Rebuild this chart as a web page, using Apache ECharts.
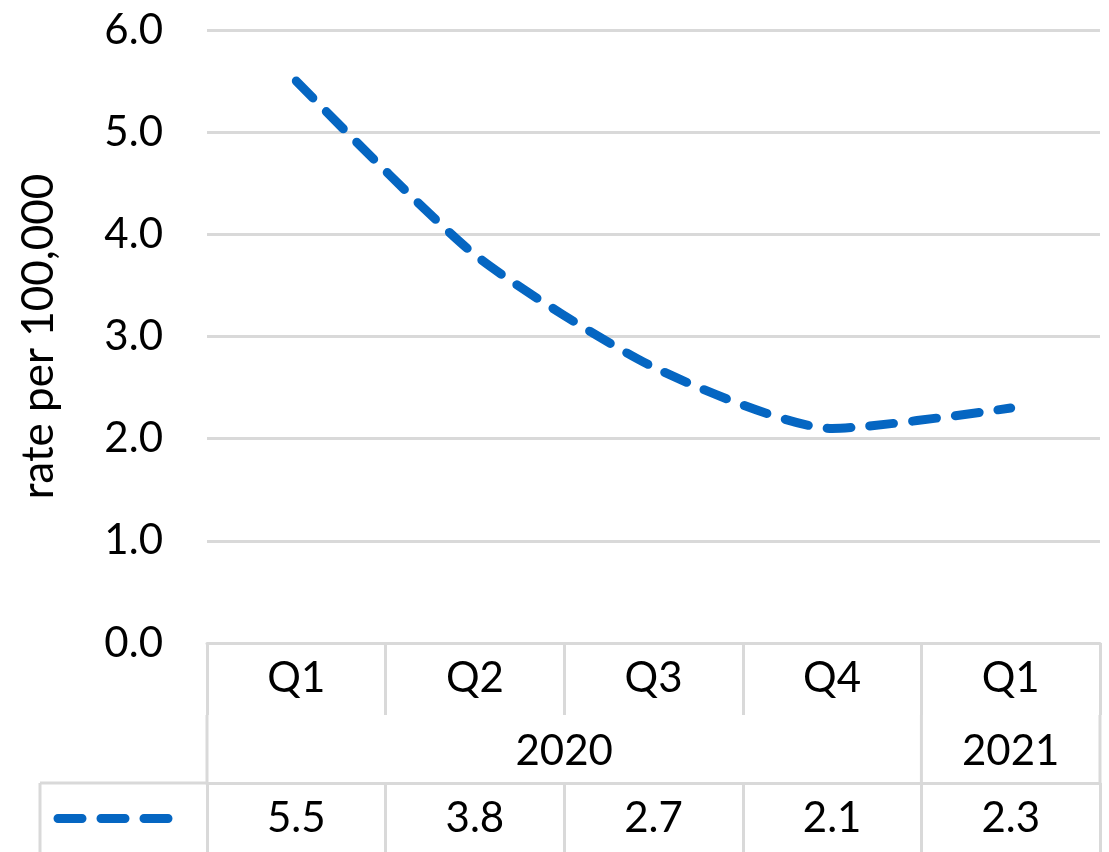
<!DOCTYPE html>
<html>
<head>
<meta charset="utf-8">
<script src="https://cdn.jsdelivr.net/npm/echarts@6/dist/echarts.min.js"></script>
<style>
  html, body { margin: 0; padding: 0; background: #fff; }
  #main { width: 1109px; height: 852px; }
</style>
</head>
<body>
<div id="main"></div>
<script>
var quarters = ['Q1', 'Q2', 'Q3', 'Q4', 'Q1'];
var years = ['2020', '2020', '2020', '2020', '2021'];
var rates = [5.5, 3.8, 2.7, 2.1, 2.3];
var yTicks = [0, 1, 2, 3, 4, 5, 6];

var FONT = 'Lato';
var GRID_COLOR = '#d9d9d9';
var LINE_COLOR = '#0566c2';
var DASH = [24, 19];

var chart = echarts.init(document.getElementById('main'));

var option = {
  animation: false,
  textStyle: { fontFamily: FONT, color: '#000' },
  grid: { left: 207, right: 9, top: 30, bottom: 209 },
  xAxis: [
    {
      type: 'category',
      data: quarters,
      boundaryGap: true,
      axisLine: { show: true, lineStyle: { color: GRID_COLOR, width: 3 } },
      axisTick: { show: true, length: 72, lineStyle: { color: GRID_COLOR, width: 3 } },
      axisLabel: { fontSize: 42, color: '#000', margin: 14, fontFamily: FONT }
    },
    {
      type: 'category',
      data: rates.map(function (v) { return v.toFixed(1); }),
      boundaryGap: true,
      position: 'bottom',
      offset: 140,
      axisLine: { show: true, lineStyle: { color: GRID_COLOR, width: 3 } },
      axisTick: { show: true, length: 72, lineStyle: { color: GRID_COLOR, width: 3 } },
      axisLabel: { fontSize: 42, color: '#000', margin: 14, fontFamily: FONT }
    }
  ],
  yAxis: {
    type: 'value',
    min: yTicks[0],
    max: yTicks[yTicks.length - 1],
    interval: 1,
    name: 'rate per 100,000',
    nameLocation: 'middle',
    nameGap: 146,
    nameTextStyle: { fontSize: 44, color: '#000', fontFamily: FONT },
    axisLine: { show: false },
    axisTick: { show: false },
    axisLabel: {
      fontSize: 42, color: '#000', margin: 44, fontFamily: FONT,
      formatter: function (v) { return v.toFixed(1); }
    },
    splitLine: { lineStyle: { color: GRID_COLOR, width: 3 } }
  },
  series: [
    {
      name: 'rate',
      type: 'line',
      data: rates,
      smooth: 0.22,
      symbol: 'none',
      lineStyle: { color: LINE_COLOR, width: 9, type: DASH, cap: 'round' }
    }
  ]
};

chart.setOption(option);

// year row, legend key and left cell borders of the data table, placed through the axis scale
function buildTable() {
  var half = (chart.convertToPixel({ xAxisIndex: 0 }, 1) - chart.convertToPixel({ xAxisIndex: 0 }, 0)) / 2;
  var y0 = chart.convertToPixel({ yAxisIndex: 0 }, 0);
  var rowQ = y0 + 72, rowV = y0 + 140, bottom = 852;
  var left = chart.convertToPixel({ xAxisIndex: 0 }, 0) - half;
  var els = [];
  var lineStyle = { stroke: GRID_COLOR, lineWidth: 3 };

  // group consecutive equal years
  var groups = [];
  years.forEach(function (yr, i) {
    var g = groups[groups.length - 1];
    if (g && g.name === yr) { g.end = i; } else { groups.push({ name: yr, start: i, end: i }); }
  });
  groups.forEach(function (g, gi) {
    var x1 = chart.convertToPixel({ xAxisIndex: 0 }, g.start) - half;
    var x2 = chart.convertToPixel({ xAxisIndex: 0 }, g.end) + half;
    els.push({
      type: 'text', x: (x1 + x2) / 2, y: (rowQ + rowV) / 2 + 2,
      style: { text: g.name, fontSize: 42, fontFamily: FONT, fill: '#000', align: 'center', verticalAlign: 'middle' }
    });
    els.push({ type: 'line', shape: { x1: x1, y1: rowQ, x2: x1, y2: rowV }, style: lineStyle });
    if (gi === groups.length - 1) {
      els.push({ type: 'line', shape: { x1: x2, y1: rowQ, x2: x2, y2: rowV }, style: lineStyle });
    }
  });
  // legend cell
  els.push({ type: 'line', shape: { x1: 40, y1: rowV, x2: left, y2: rowV }, style: lineStyle });
  els.push({ type: 'line', shape: { x1: 40, y1: rowV, x2: 40, y2: bottom }, style: lineStyle });
  var keyY = (rowV + bottom) / 2 + 1;
  els.push({
    type: 'line', shape: { x1: 58, y1: keyY, x2: 168, y2: keyY },
    style: { stroke: LINE_COLOR, lineWidth: 9, lineDash: DASH, lineCap: 'round' }
  });
  chart.setOption({ graphic: { elements: els } });
}
buildTable();
</script>
</body>
</html>
